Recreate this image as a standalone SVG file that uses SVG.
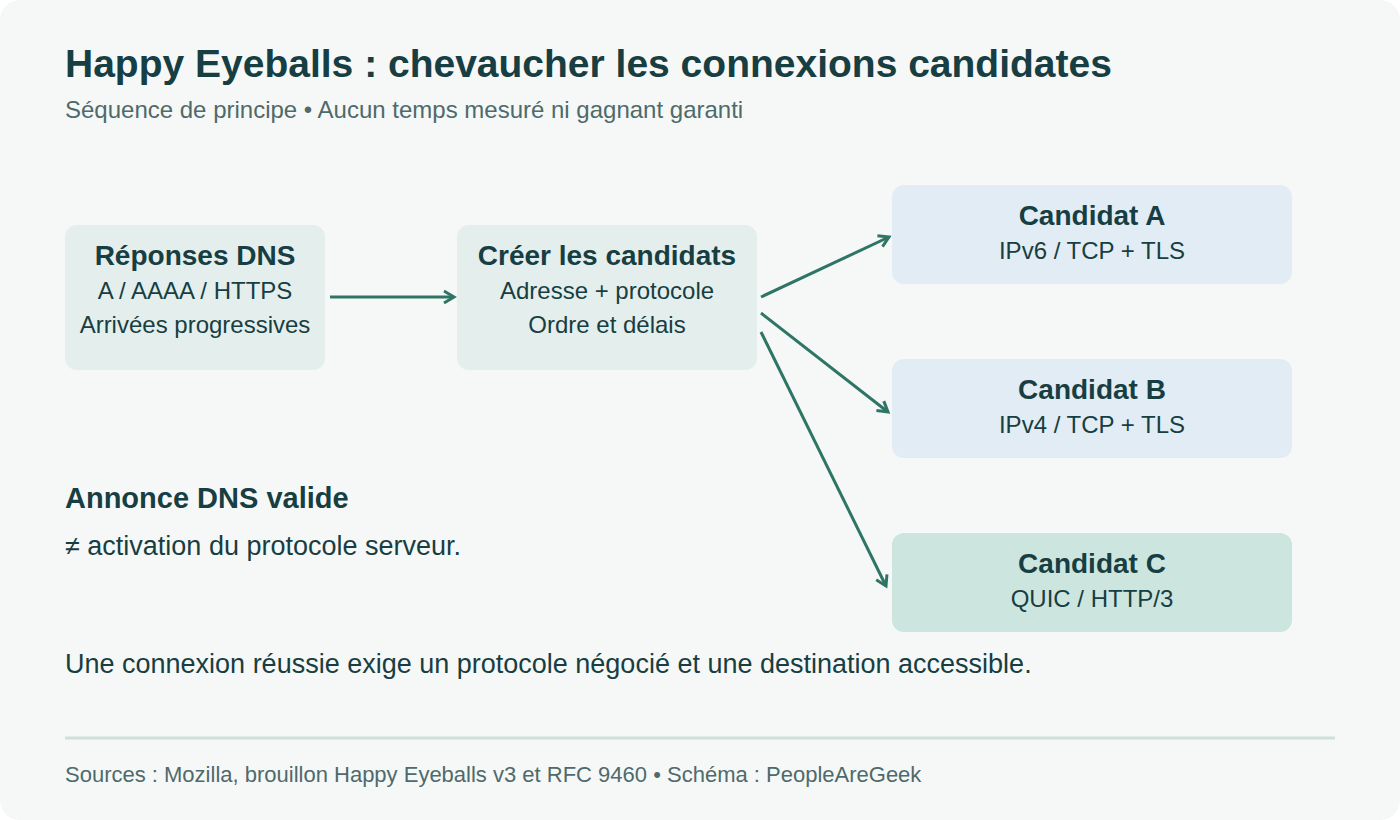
<svg xmlns="http://www.w3.org/2000/svg" width="1400" height="820" viewBox="0 0 1400 820">
<defs>
<style>
.t{font-family:"Liberation Sans",Arial,sans-serif;fill:#173e42}
.title{font-size:39px;font-weight:bold}
.sub{font-size:24px;fill:#4e6a6b}
.nt{font-size:28px;font-weight:bold;text-anchor:middle}
.nl{font-size:24px;text-anchor:middle}
.body{font-size:27px}
.foot{font-size:22px;fill:#4e6a6b}
.n1{fill:#e4eeec}
.na{fill:#e2ecf4}
.nc{fill:#cde5df}
.conn{stroke:#2e7566;stroke-width:3;fill:none;marker-end:url(#ah)}
</style>
<marker id="ah" markerUnits="userSpaceOnUse" markerWidth="18" markerHeight="18" viewBox="0 0 18 18" refX="15" refY="9" orient="auto">
<path d="M5,3 L15,9 L5,15" fill="none" stroke="#2e7566" stroke-width="3"/>
</marker>
</defs>
<rect x="0" y="0" width="1400" height="820" fill="#ffffff"/>
<rect x="0" y="0" width="1400" height="820" rx="20" fill="#f6f8f7"/>
<text class="t title" x="65" y="77">Happy Eyeballs : chevaucher les connexions candidates</text>
<text class="t sub" x="65" y="118">Séquence de principe • Aucun temps mesuré ni gagnant garanti</text>

<g id="connectors">
<line class="conn" x1="330" y1="297" x2="454" y2="297"/>
<line class="conn" x1="761" y1="297" x2="889" y2="237"/>
<line class="conn" x1="761" y1="313" x2="888" y2="412"/>
<line class="conn" x1="761" y1="332" x2="886" y2="586"/>
</g>

<g id="dns">
<rect class="n1" x="65" y="225" width="260" height="145" rx="12"/>
<text class="t nt" x="195" y="265">Réponses DNS</text>
<text class="t nl" x="195" y="299">A / AAAA / HTTPS</text>
<text class="t nl" x="195" y="333">Arrivées progressives</text>
</g>

<g id="creer">
<rect class="n1" x="457" y="225" width="300" height="145" rx="12"/>
<text class="t nt" x="607" y="265">Créer les candidats</text>
<text class="t nl" x="607" y="299">Adresse + protocole</text>
<text class="t nl" x="607" y="333">Ordre et délais</text>
</g>

<g id="candA">
<rect class="na" x="892" y="185" width="400" height="99" rx="12"/>
<text class="t nt" x="1092" y="225">Candidat A</text>
<text class="t nl" x="1092" y="259">IPv6 / TCP + TLS</text>
</g>

<g id="candB">
<rect class="na" x="892" y="359" width="400" height="99" rx="12"/>
<text class="t nt" x="1092" y="399">Candidat B</text>
<text class="t nl" x="1092" y="433">IPv4 / TCP + TLS</text>
</g>

<g id="candC">
<rect class="nc" x="892" y="533" width="400" height="99" rx="12"/>
<text class="t nt" x="1092" y="573">Candidat C</text>
<text class="t nl" x="1092" y="607">QUIC / HTTP/3</text>
</g>

<g id="note">
<text class="t" x="65" y="508" style="font-size:29px;font-weight:bold">Annonce DNS valide</text>
<text class="t" x="65" y="555" style="font-size:27px">≠ activation du protocole serveur.</text>
</g>

<text class="t body" x="65" y="673">Une connexion réussie exige un protocole négocié et une destination accessible.</text>
<line x1="65" y1="738" x2="1335" y2="738" stroke="#cfdfdc" stroke-width="3"/>
<text class="t foot" x="65" y="782">Sources : Mozilla, brouillon Happy Eyeballs v3 et RFC 9460 • Schéma : PeopleAreGeek</text>
</svg>
